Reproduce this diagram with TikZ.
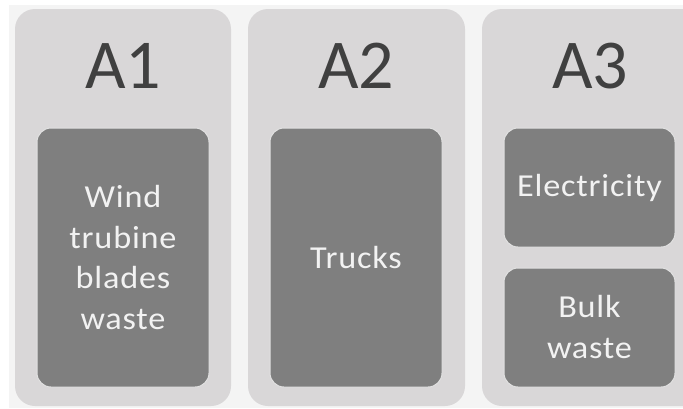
\documentclass[tikz,border=0pt]{standalone}
\usepackage{fontspec}
\setmainfont{Carlito}
\newfontfamily\boxfont{Carlito}[FakeStretch=1.07, LetterSpace=2.5]
\definecolor{pagebg}{HTML}{F4F4F4}
\definecolor{panelfill}{HTML}{D9D7D8}
\definecolor{boxfill}{HTML}{7F7F7F}
\definecolor{boxedge}{HTML}{E2E2E2}
\definecolor{titletext}{HTML}{404040}
\definecolor{boxtext}{HTML}{F2F2F2}
\tikzset{
  panel/.style={fill=panelfill, draw=none, rounded corners=20pt},
  itembox/.style={fill=boxfill, draw=boxedge, line width=1pt, rounded corners=14pt},
  titlelabel/.style={text=titletext, font=\fontsize{70}{80}\selectfont, inner sep=0pt},
  itemlabel/.style={text=boxtext, align=center, inner sep=0pt,
    font=\boxfont\fontsize{32}{40.7}\selectfont},
}
\begin{document}
\begin{tikzpicture}[x=1pt, y=-1pt]
  \useasboundingbox (0,0) rectangle (683,408);
  \clip (0,0) rectangle (683,408);
  \fill[white] (0,0) rectangle (683,408);
  \fill[pagebg] (9,5) rectangle (683,408);

  % columns
  \path[panel] (15,9) rectangle (231,406);
  \path[panel] (248,9) rectangle (465,406);
  \path[panel] (482,9) rectangle (705,406);

  % headings
  \node[titlelabel, anchor=center] (t1) at (123,66) {A1};
  \node[titlelabel, anchor=center] (t2) at (356,66) {A2};
  \node[titlelabel, anchor=center] (t3) at (590,66) {A3};

  % boxes
  \path[itembox] (37,128) rectangle (209,387);
  \path[itembox] (270,128) rectangle (442,387);
  \path[itembox] (504,128) rectangle (675,247);
  \path[itembox] (504,268) rectangle (675,387);

  \node[itemlabel] (b1) at (123,257.5) {Wind\\trubine\\blades\\waste};
  \node[itemlabel] (b2) at (356,257.5) {Trucks};
  \node[itemlabel] (b3) at (589.5,187.5) {Electricity};
  \node[itemlabel] (b4) at (589.5,327) {Bulk\\waste};
\end{tikzpicture}
\end{document}
